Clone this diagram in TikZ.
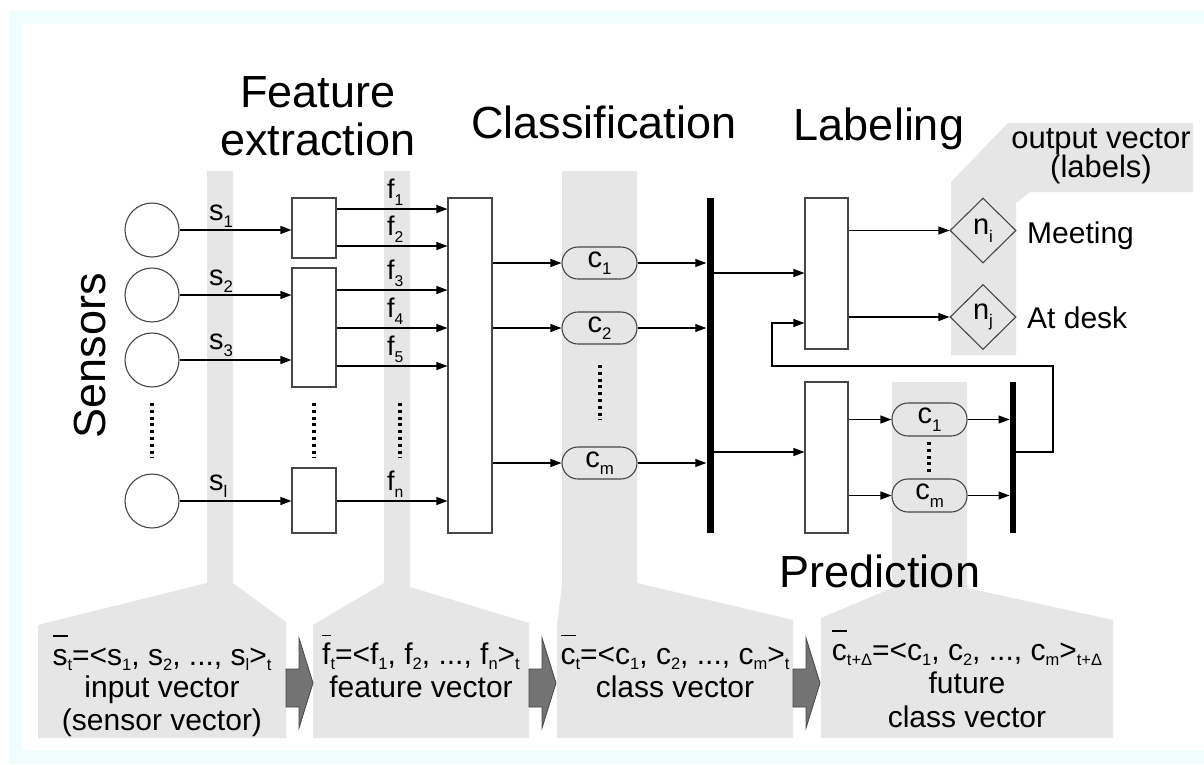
\documentclass[tikz,border=0pt]{standalone}
\usepackage{fontspec}
\setmainfont{Liberation Sans}
\usepackage{graphicx}
\usetikzlibrary{arrows.meta,shapes.geometric}

\definecolor{bandgray}{RGB}{230,230,230}
\definecolor{edge}{RGB}{70,70,70}
\definecolor{chevfill}{RGB}{115,115,115}
\definecolor{framecyan}{RGB}{241,252,252}

% small lowered index, e.g. s_1
\newcommand\lsub[1]{\raisebox{-0.26em}{\scalebox{0.58}{#1}}}
% flatter index for the vector formulas
\newcommand\vsub[1]{\raisebox{-0.17em}{\scalebox{0.55}{#1}}}
% letter with a bar above it (vector notation)
\newcommand\ob[1]{\leavevmode\setbox0=\hbox{#1}\rlap{\raisebox{0.95em}{\rule{\wd0}{0.05em}}}\box0}

\begin{document}
\begin{tikzpicture}[x=1pt,y=-1pt,
  band/.style={fill=bandgray},
  blk/.style={draw=edge, fill=white, line width=1.1pt, inner sep=0, minimum width=44pt},
  bar/.style={fill=black, inner sep=0, minimum width=7pt},
  sensor/.style={circle, draw=edge, line width=1.1pt, minimum size=54pt, inner sep=0},
  pill/.style={draw=edge, fill=bandgray, line width=1.1pt, rounded corners=16pt,
    minimum width=75pt, minimum height=32pt, inner sep=0, font=\fontsize{29}{29}\selectfont},
  dia/.style={diamond, aspect=1, draw=edge, line width=1.1pt, minimum width=66pt,
    minimum height=65pt, inner sep=0, font=\fontsize{29}{29}\selectfont},
  conn/.style={-{Triangle[length=11pt,width=8pt]}, line width=1.1pt},
  dotcol/.style={line width=3.2pt, dash pattern=on 3pt off 3.8pt},
  ttl/.style={font=\fontsize{45}{48}\selectfont, anchor=base, inner sep=0},
  lbl/.style={font=\fontsize{29}{29}\selectfont, anchor=base west, inner sep=0},
  flbl/.style={font=\fontsize{27}{27}\selectfont, anchor=base west, inner sep=0},
  vec/.style={font=\fontsize{30}{32.5}\selectfont, anchor=base, inner sep=0, align=center},
  side/.style={font=\fontsize{30}{30}\selectfont, anchor=base west, inner sep=0},
  chev/.style={fill=chevfill, draw=edge, line width=0.8pt}
]
\useasboundingbox (0,0) rectangle (1204,764);

% frame
\fill[framecyan] (9,11) rectangle (1204,764);
\fill[white] (22,24) rectangle (1204,750);

% shaded vector bands and their summary boxes
\fill[band] (38,738) -- (38,625) -- (207,583) -- (207,171) -- (233,171) -- (233,583)
  -- (286,622) -- (286,738) -- cycle;
\fill[band] (313,738) -- (313,625) -- (384,583) -- (384,171) -- (410,171) -- (410,587)
  -- (529,623) -- (529,738) -- cycle;
\fill[band] (557,738) -- (557,625) -- (562,585) -- (562,171) -- (637,171) -- (637,583)
  -- (793,620) -- (793,738) -- cycle;
\fill[band] (821,738) -- (821,618) -- (892,588) -- (892,382) -- (967,382) -- (967,588)
  -- (1113,620) -- (1113,738) -- cycle;
\fill[band] (951,355) -- (951,182) -- (1008,123) -- (1193,123) -- (1193,192)
  -- (1030,192) -- (1016,203) -- (1016,355) -- cycle;

% chevrons between the summary boxes
\foreach \x in {286,529,793}{
  \draw[chev] (\x,669) -- ({\x+13},669) -- ({\x+13},638) -- ({\x+27},683)
    -- ({\x+13},728) -- ({\x+13},707) -- (\x,707) -- cycle;
}

% titles
\node[ttl] (tFeat) at (318,107) {Feature};
\node[ttl] (tExtr) at (318,155) {extraction};
\node[ttl] (tClass) at (604,138) {Classification};
\node[ttl] (tLab) at (879,140) {Labeling};
\node[ttl] (tPred) at (880,587) {Prediction};
\node[ttl, rotate=90] (tSens) at (105,356) {Sensors};
\node[vec, font=\fontsize{31}{29}\selectfont] (ov) at (1101,177) {output vector\\(labels)};

% sensors
\node[sensor] (sen1) at (152,230) {};
\node[sensor] (sen2) at (152,295) {};
\node[sensor] (sen3) at (152,360) {};
\node[sensor] (senl) at (152,501) {};

% feature extraction blocks
\node[blk, minimum height=60pt] (fe1) at (314,228) {};
\node[blk, minimum height=119pt] (fe2) at (314,327.5) {};
\node[blk, minimum height=65pt] (fe3) at (314,500.5) {};

% classifier, labeling and prediction blocks
\node[blk, minimum height=335pt] (cls) at (470,365.5) {};
\node[blk, minimum width=43pt, minimum height=151pt] (lab) at (826.5,273.5) {};
\node[blk, minimum width=43pt, minimum height=151pt] (prd) at (826.5,457.5) {};

% collecting bars
\node[bar, minimum height=335pt] (bar1) at (710,365.5) {};
\node[bar, minimum width=6.5pt, minimum height=151pt] (bar2) at (1013,457.5) {};

% class nodes
\node[pill] (c1) at (599.5,263) {c\lsub{1}};
\node[pill] (c2) at (599.5,328) {c\lsub{2}};
\node[pill] (cm) at (599.5,463) {c\lsub{m}};
\node[pill, minimum height=33pt] (pc1) at (929.5,419.5) {c\lsub{1}};
\node[pill, minimum height=33pt] (pcm) at (929.5,495.5) {c\lsub{m}};

% output label nodes
\node[dia] (ni) at (983,230.5) {n\lsub{i}};
\node[dia] (nj) at (983,317) {n\lsub{j}};
\node[side] (meet) at (1027,243) {Meeting};
\node[side] (desk) at (1027,328) {At desk};

% sensor signals
\draw[conn] (sen1) -- (sen1 -| fe1.west);
\draw[conn] (sen2) -- (sen2 -| fe2.west);
\draw[conn] (sen3) -- (sen3 -| fe2.west);
\draw[conn] (senl) -- (senl -| fe3.west);
\node[lbl] (ls1) at (209,220) {s\lsub{1}};
\node[lbl] (ls2) at (209,285) {s\lsub{2}};
\node[lbl] (ls3) at (209,349) {s\lsub{3}};
\node[lbl] (lsl) at (209,490) {s\lsub{l}};

% feature signals
\coordinate (yf1) at (0,209);
\coordinate (yf2) at (0,246);
\coordinate (yf3) at (0,290);
\coordinate (yf4) at (0,328);
\coordinate (yf5) at (0,366);
\coordinate (yfn) at (0,501);
\draw[conn] (fe1.east |- yf1) -- (cls.west |- yf1);
\draw[conn] (fe1.east |- yf2) -- (cls.west |- yf2);
\draw[conn] (fe2.east |- yf3) -- (cls.west |- yf3);
\draw[conn] (fe2.east |- yf4) -- (cls.west |- yf4);
\draw[conn] (fe2.east |- yf5) -- (cls.west |- yf5);
\draw[conn] (fe3.east |- yfn) -- (cls.west |- yfn);
\node[flbl] (lf1) at (387,198) {f\lsub{1}};
\node[flbl] (lf2) at (387,235) {f\lsub{2}};
\node[flbl] (lf3) at (387,279) {f\lsub{3}};
\node[flbl] (lf4) at (387,317) {f\lsub{4}};
\node[flbl] (lf5) at (387,355) {f\lsub{5}};
\node[flbl] (lfn) at (387,490) {f\lsub{n}};

% classification
\draw[conn] (cls.east |- c1) -- (c1.west);
\draw[conn] (cls.east |- c2) -- (c2.west);
\draw[conn] (cls.east |- cm) -- (cm.west);
\draw[conn] (c1.east) -- (c1.east -| bar1.west);
\draw[conn] (c2.east) -- (c2.east -| bar1.west);
\draw[conn] (cm.east) -- (cm.east -| bar1.west);

% labeling and prediction
\coordinate (ylab) at (0,273);
\coordinate (yprd) at (0,452);
\draw[conn] (bar1.east |- ylab) -- (lab.west |- ylab);
\draw[conn] (bar1.east |- yprd) -- (prd.west |- yprd);
\draw[conn] (lab.east |- ni) -- (ni.west);
\draw[conn] (lab.east |- nj) -- (nj.west);
\draw[conn] (prd.east |- pc1) -- (pc1.west);
\draw[conn] (prd.east |- pcm) -- (pcm.west);
\draw[conn] (pc1.east) -- (pc1.east -| bar2.west);
\draw[conn] (pcm.east) -- (pcm.east -| bar2.west);

% feedback of the predicted classes into labeling
\coordinate (fbA) at (1053,452);
\coordinate (fbB) at (772,366);
\coordinate (fbC) at (0,323);
\draw[conn] (bar2.east |- fbA) -- (fbA) |- (fbB) |- (lab.west |- fbC);

% ellipses
\draw[dotcol] (152,403) -- (152,458);
\draw[dotcol] (314,403) -- (314,458);
\draw[dotcol] (400,403) -- (400,458);
\draw[dotcol] (600,365) -- (600,420);
\draw[dotcol] (929,442) -- (929,474);

% vector summaries (anchored at the baseline of their last line)
\node[vec] (v1) at (162,730)
  {\ob{s}\vsub{t}=<s\vsub{1}, s\vsub{2}, ..., s\vsub{l}>\vsub{t}\\input vector\\(sensor vector)};
\node[vec] (v2) at (421,697)
  {\ob{f}\vsub{t}=<f\vsub{1}, f\vsub{2}, ..., f\vsub{n}>\vsub{t}\\feature vector};
\node[vec] (v3) at (675,697)
  {\ob{c}\vsub{t}=<c\vsub{1}, c\vsub{2}, ..., c\vsub{m}>\vsub{t}\\class vector};
\node[vec, font=\fontsize{30}{33.5}\selectfont] (v4) at (967,727)
  {\ob{c}\vsub{t+Δ}=<c\vsub{1}, c\vsub{2}, ..., c\vsub{m}>\vsub{t+Δ}\\future\\class vector};
\end{tikzpicture}
\end{document}
